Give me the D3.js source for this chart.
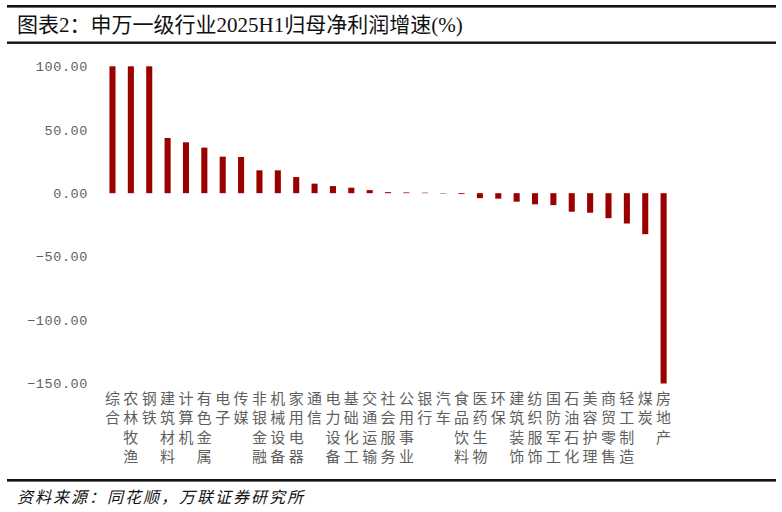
<!DOCTYPE html>
<html>
<head>
<meta charset="utf-8">
<script src="https://cdn.jsdelivr.net/npm/d3@7"></script>
<style>
  body { margin: 0; background: #fff; }
  svg { display: block; }
</style>
</head>
<body>
<svg id="chart" width="782" height="512"></svg>
<script>
/*--- Data ---*/
const industries = [
    "综合", "农林牧渔", "钢铁", "建筑材料", "计算机", "有色金属", "电子", "传媒",
    "非银金融", "机械设备", "家用电器", "通信", "电力设备", "基础化工", "交通运输",
    "社会服务", "公用事业", "银行", "汽车", "食品饮料", "医药生物", "环保",
    "建筑装饰", "纺织服饰", "国防军工", "石油石化", "美容护理", "商贸零售",
    "轻工制造", "煤炭", "房地产"
];
// values above 100 / below -150 are cut off by the axis in the source
const growth = [
    100, 100, 100, 43.5, 40.1, 35.9, 28.8, 28.5,
    18.0, 18.0, 12.7, 7.5, 5.6, 4.3, 2.4,
    0.8, 0.6, 0.4, -0.3, -0.7, -3.9, -4.3,
    -6.7, -8.8, -9.4, -14.6, -15.4, -19.7,
    -23.9, -32.3, -150
];
const yTicks = [100, 50, 0, -50, -100, -150];

/*--- Constants ---*/
const svg = d3.select("#chart");
const barColor = "#990000";
const textGrey = "#5f5f5f";

/*--- Scales ---*/
const xScale = d3.scaleBand()
    .domain(industries)
    .range([103.3, 672.8])
    .paddingInner(0.67)
    .paddingOuter(0.335);

const yScale = d3.scaleLinear()
    .domain([-150, 100])
    .range([383.5, 66.3]);

/*--- Frame: rules, title, source ---*/
svg.append("rect").attr("x", 7).attr("y", 5).attr("width", 769).attr("height", 2.6).attr("fill", "#111");
svg.append("rect").attr("x", 7).attr("y", 41.5).attr("width", 769).attr("height", 2.4).attr("fill", "#111");
svg.append("rect").attr("x", 7).attr("y", 479).attr("width", 769).attr("height", 2.6).attr("fill", "#111");

svg.append("text")
    .attr("x", 17)
    .attr("y", 32)
    .attr("font-family", "'Liberation Serif', 'Noto Sans CJK SC', serif")
    .attr("font-size", 21)
    .attr("fill", "#111")
    .text("图表2：申万一级行业2025H1归母净利润增速(%)");

svg.append("text")
    .attr("x", 17)
    .attr("y", 503)
    .attr("font-family", "'Noto Sans CJK SC', sans-serif")
    .attr("font-size", 16)
    .attr("letter-spacing", 2)
    .attr("font-style", "italic")
    .attr("fill", "#111")
    .text("资料来源：同花顺，万联证券研究所");

/*--- Y axis ---*/
const yAxis = svg.append("g")
    .attr("transform", "translate(90,0)")
    .call(d3.axisLeft(yScale).tickValues(yTicks).tickFormat(d3.format(".2f")).tickSize(0).tickPadding(2));
yAxis.select(".domain").remove();
yAxis.selectAll(".tick text")
    .attr("font-family", "'Liberation Mono', 'DejaVu Sans Mono', monospace")
    .attr("font-size", 13.5)
    .attr("letter-spacing", 0.6)
    .attr("fill", textGrey);

/*--- Bars ---*/
svg.selectAll("rect.bar")
    .data(growth)
    .join("rect")
    .attr("class", "bar")
    .attr("x", (d, i) => xScale(industries[i]))
    .attr("width", xScale.bandwidth())
    .attr("y", d => yScale(Math.max(0, d)))
    .attr("height", d => Math.abs(yScale(d) - yScale(0)))
    .attr("fill", barColor);

/*--- Category labels, one character per row ---*/
const labels = svg.append("g")
    .attr("font-family", "'Noto Sans CJK SC', sans-serif")
    .attr("font-size", 15)
    .attr("fill", textGrey)
    .attr("text-anchor", "middle");

industries.forEach(function (name) {
    const cx = xScale(name) + xScale.bandwidth() / 2;
    Array.from(name).forEach(function (ch, k) {
        labels.append("text")
            .attr("x", cx)
            .attr("y", 404 + k * 19.4)
            .text(ch);
    });
});
</script>
</body>
</html>
